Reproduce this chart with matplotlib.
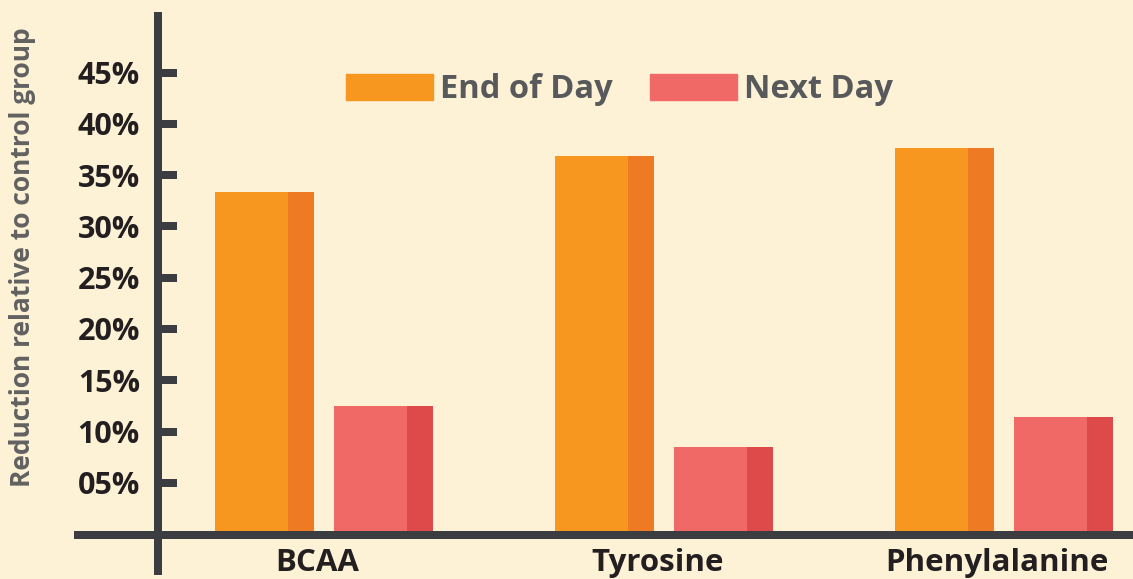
import numpy as np
import matplotlib.pyplot as plt
from matplotlib.patches import Patch

plt.rcParams['font.family'] = ['Open Sans', 'DejaVu Sans']

categories = ['BCAA', 'Tyrosine', 'Phenylalanine']
end_of_day = [33.4, 36.9, 37.7]
next_day = [12.5, 8.5, 11.4]
yticks = [5, 10, 15, 20, 25, 30, 35, 40, 45]
series_names = ['End of Day', 'Next Day']

bg = '#FDF1D6'
axis_col = '#3C3D41'
eod_light, eod_dark = '#F8971F', '#EE7A23'
nd_light, nd_dark = '#F06966', '#DE4A4A'

W, H = 1133, 579
fig = plt.figure(figsize=(W/100, H/100), dpi=100, facecolor=bg)
# pixel layout: y axis at x=158, zero line at row 534
ax = fig.add_axes([158/W, (H-534)/H, (W-158)/W, 534/H])
ax.set_facecolor(bg)

x = np.arange(len(categories))
w = 99/340.
frac = 0.74
off_eod = -109/340.
off_nd = 10/340.

for vals, off, light, dark in [(end_of_day, off_eod, eod_light, eod_dark),
                                (next_day, off_nd, nd_light, nd_dark)]:
    ax.bar(x+off, vals, width=w*frac, align='edge', color=light, zorder=2, lw=0)
    ax.bar(x+off+w*frac, vals, width=w*(1-frac), align='edge', color=dark, zorder=2, lw=0)

ax.set_xlim((158-324)/340., (W-324)/340.)
ax.set_ylim(0, 534/10.25)

for s in ax.spines.values():
    s.set_visible(False)

lw = 8*0.72
# y axis line and x axis line
ax.plot([0, 0], [-41/534., 1-12/534.], transform=ax.transAxes, color=axis_col,
        lw=lw, solid_capstyle='butt', clip_on=False, zorder=4)
ax.plot([(74-158)/975., 1], [-1/534., -1/534.], transform=ax.transAxes, color=axis_col,
        lw=lw, solid_capstyle='butt', clip_on=False, zorder=4)

ax.set_yticks(yticks)
ax.set_yticklabels(['%02d%%' % t for t in yticks])
ax.tick_params(axis='y', direction='in', length=19*0.72, width=lw, color=axis_col,
               pad=13, labelsize=22, labelcolor='#231F20')
for lab in ax.get_yticklabels():
    lab.set_fontweight('bold')

ax.set_xticks(x - 0.02)
ax.set_xticklabels(categories)
ax.tick_params(axis='x', length=0, pad=10, labelsize=22.5, labelcolor='#231F20')
for lab in ax.get_xticklabels():
    lab.set_fontweight('bold')

fig.text(23/W, 1-257/H, 'Reduction relative to control group', rotation=90,
         ha='center', va='center', fontsize=19, fontweight='bold', color='#616161')

handles = [Patch(color=eod_light), Patch(color=nd_light)]
leg = fig.legend(handles, series_names, loc='center left',
                 bbox_to_anchor=(346/W, 1-90/H), ncol=2, frameon=False,
                 borderpad=0, borderaxespad=0, handlelength=2.67, handleheight=0.86,
                 handletextpad=0.21, columnspacing=1.13,
                 prop={'size': 23.5, 'weight': 'bold'})
for t in leg.get_texts():
    t.set_color('#58595B')

fig.savefig('out.png', dpi=100, facecolor=bg)
